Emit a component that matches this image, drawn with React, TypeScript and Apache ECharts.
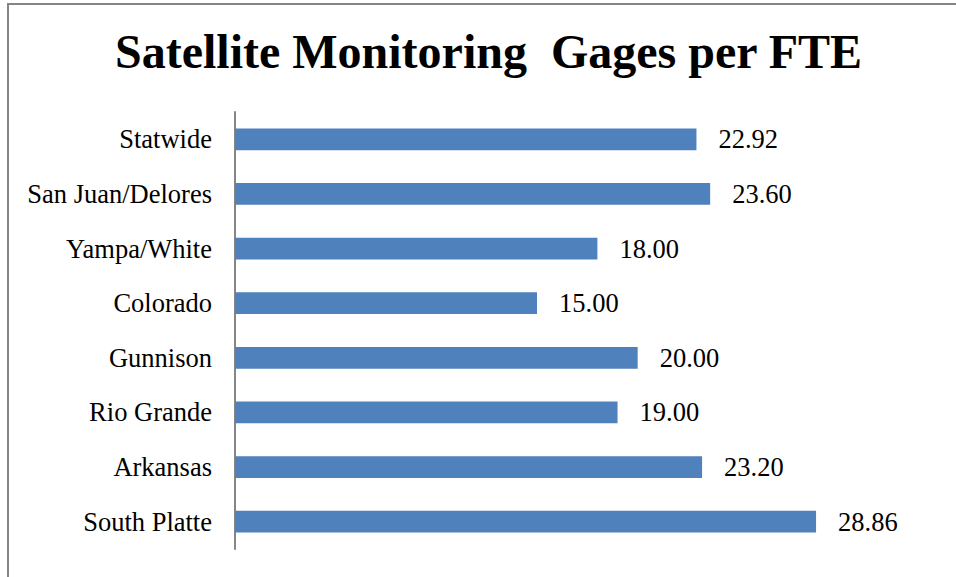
import React, { useEffect, useRef } from "react";
import * as echarts from "echarts";

const categories = [
  "Statwide",
  "San Juan/Delores",
  "Yampa/White",
  "Colorado",
  "Gunnison",
  "Rio Grande",
  "Arkansas",
  "South Platte",
];
const values = [22.92, 23.6, 18.0, 15.0, 20.0, 19.0, 23.2, 28.86];
const titleText = "Satellite Monitoring  Gages per FTE";

const FONT = "'Liberation Serif', 'Times New Roman', serif";

export default function App() {
  const ref = useRef<HTMLDivElement>(null);
  useEffect(() => {
    document.body.style.margin = "0";
    const chart = echarts.init(ref.current!, null, { renderer: "svg" });
    chart.setOption({
      animation: false,
      backgroundColor: "#ffffff",
      title: {
        text: titleText,
        left: 110,
        top: 22,
        textStyle: {
          fontFamily: FONT,
          fontWeight: "bold",
          fontSize: 48,
          color: "#000",
        },
      },
      graphic: [
        {
          type: "rect",
          shape: { x: 8, y: 4, width: 1200, height: 1200 },
          style: { fill: "none", stroke: "#858585", lineWidth: 2 },
          silent: true,
        },
      ],
      grid: { left: 235, right: 117, top: 112, bottom: 28 },
      xAxis: {
        type: "value",
        min: 0,
        max: 30,
        show: false,
      },
      yAxis: {
        type: "category",
        data: categories,
        inverse: true,
        axisLine: { show: true, lineStyle: { color: "#868686", width: 2 } },
        axisTick: { show: false },
        axisLabel: {
          fontFamily: FONT,
          fontSize: 26.5,
          color: "#000",
          margin: 23,
        },
      },
      series: [
        {
          type: "bar",
          data: values,
          barCategoryGap: "60%",
          itemStyle: { color: "#4F81BD" },
          label: {
            show: true,
            position: "right",
            distance: 22,
            formatter: (p: any) => Number(p.value).toFixed(2),
            fontFamily: FONT,
            fontSize: 26.5,
            color: "#000",
          },
        },
      ],
    });
    return () => chart.dispose();
  }, []);
  return <div ref={ref} style={{ width: 956, height: 577 }} />;
}
